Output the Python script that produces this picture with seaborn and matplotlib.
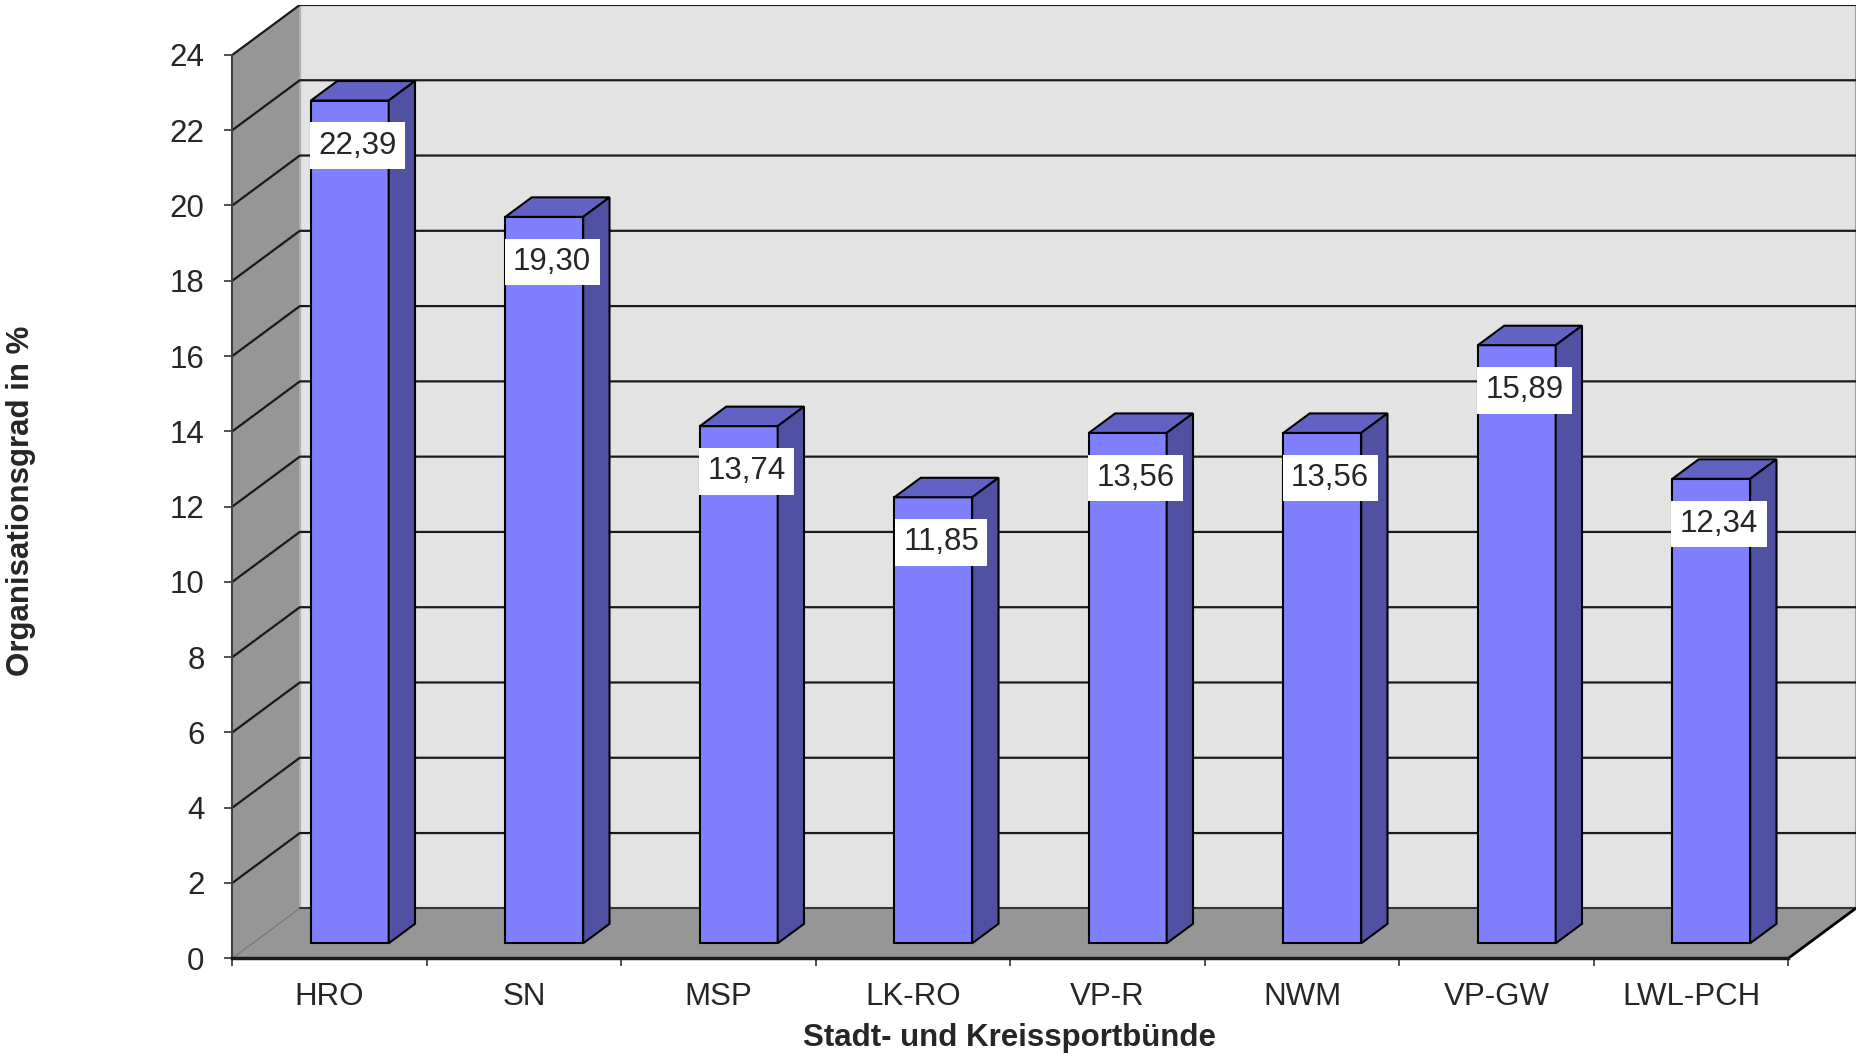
import numpy as np
import pandas as pd
import matplotlib
matplotlib.use("Agg")
import matplotlib.pyplot as plt
from matplotlib.patches import Polygon
import seaborn as sns

# data
categories = ["HRO", "SN", "MSP", "LK-RO", "VP-R", "NWM", "VP-GW", "LWL-PCH"]
values = [22.39, 19.30, 13.74, 11.85, 13.56, 13.56, 15.89, 12.34]
y_ticks = list(range(0, 25, 2))
x_title = "Stadt- und Kreissportbünde"
y_title = "Organisationsgrad in %"

sns.set_style("white")
plt.rcParams['font.family'] = ['Liberation Sans', 'DejaVu Sans']

# fake 3d: offset of the back plane in data units
DX, DY = 0.347, 1.327
D0, DEPTH = 0.30, 0.39   # where the bars sit in depth (fraction of floor)
YMAX = 24
FS = 22.5
n = len(categories)
x0, x1 = -0.5, n - 0.5

fig = plt.figure(figsize=(18.59, 10.57), dpi=100)
ax = fig.add_axes([0.12496, 0.0934, 0.8733, 0.9019])

df = pd.DataFrame({"kreis": categories, "grad": values})
sns.barplot(data=df, x="kreis", y="grad", color="#8080FF", saturation=1,
            width=0.4, edgecolor="black", linewidth=1.5, errorbar=None,
            ax=ax, zorder=3)
bars = list(ax.patches)

# walls and floor
ax.add_patch(Polygon([(x0, 0), (x0 + DX, DY), (x0 + DX, YMAX + DY), (x0, YMAX)],
                     fc="#969696", ec="none", zorder=0))
ax.add_patch(Polygon([(x0 + DX, DY), (x1 + DX, DY), (x1 + DX, YMAX + DY), (x0 + DX, YMAX + DY)],
                     fc="#E3E3E3", ec="none", zorder=0))
ax.add_patch(Polygon([(x0, 0), (x1, 0), (x1 + DX, DY), (x0 + DX, DY)],
                     fc="#969696", ec="none", zorder=0))
ax.plot([x0 + DX, x0 + DX], [DY, YMAX + DY], color="#b4b4b4", lw=1, zorder=1)
ax.plot([x1 + DX, x1 + DX], [DY, YMAX + DY], color="#a0a0a0", lw=1.5, zorder=1)
ax.plot([x0, x0 + DX], [0, DY], color="#7a7a7a", lw=1, zorder=1)
ax.plot([x0 + DX, x1 + DX], [DY, DY], color="#333333", lw=1.5, zorder=1)
ax.plot([x1, x1 + DX], [0, DY], color="black", lw=2, zorder=1)

for v in y_ticks[1:]:
    ax.plot([x0, x0 + DX, x1 + DX], [v, v + DY, v + DY], color="#1a1a1a", lw=1.6, zorder=1)

# bars: move the seaborn front faces back a bit and add top and side faces
for bar in bars:
    v = bar.get_height()
    w = bar.get_width()
    bx = bar.get_x() + D0 * DX
    by = D0 * DY
    bar.set_x(bx)
    bar.set_y(by)
    ox, oy = DEPTH * DX, DEPTH * DY
    top = [(bx, by + v), (bx + w, by + v), (bx + w + ox, by + v + oy), (bx + ox, by + v + oy)]
    side = [(bx + w, by), (bx + w + ox, by + oy), (bx + w + ox, by + v + oy), (bx + w, by + v)]
    ax.add_patch(Polygon(top, fc="#6262C4", ec="black", lw=1.5, zorder=3))
    ax.add_patch(Polygon(side, fc="#5151A3", ec="black", lw=1.5, zorder=3))
    ax.text(bx + w / 2 + 0.04, by + v - 1.2, f"{v:.2f}".replace(".", ","),
            ha="center", va="center", fontsize=FS, zorder=5,
            bbox=dict(boxstyle="square,pad=0.27", fc="white", ec="none"))

ax.set_xlim(x0, x1 + DX)
ax.set_ylim(0, YMAX + DY)
ax.set_yticks(y_ticks)
ax.set_yticklabels([str(t) for t in y_ticks], fontsize=FS)
ax.set_xticks(np.arange(n + 1) - 0.5)
ax.set_xticklabels([])
ax.set_xticks(np.arange(n), minor=True)
ax.set_xticklabels(categories, minor=True, fontsize=FS)
ax.tick_params(axis="x", which="major", length=6, width=1.2, color="#333333", bottom=True)
ax.tick_params(axis="x", which="minor", length=0, pad=17)
ax.tick_params(axis="y", length=6, width=1.2, color="#333333", left=True, pad=14)

for s in ["top", "right"]:
    ax.spines[s].set_visible(False)
ax.spines["left"].set_bounds(0, YMAX)
ax.spines["left"].set_color("#404040")
ax.spines["left"].set_linewidth(1.5)
ax.spines["bottom"].set_bounds(x0, x1)
ax.spines["bottom"].set_color("#1a1a1a")
ax.spines["bottom"].set_linewidth(2.5)

ax.set_xlabel(x_title, fontsize=FS, fontweight="bold")
ax.set_ylabel(y_title, fontsize=FS, fontweight="bold")
ax.xaxis.label.set_va("center")
ax.yaxis.label.set_va("center")
ax.xaxis.set_label_coords(0.479, -0.0835)
ax.yaxis.set_label_coords(-0.1301, 0.48)

fig.savefig("out.png", dpi=100)
